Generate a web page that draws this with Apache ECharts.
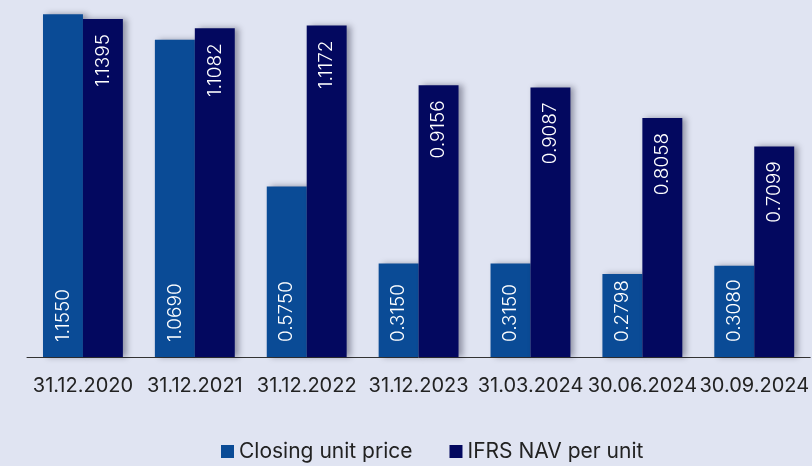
<!DOCTYPE html>
<html><head><meta charset="utf-8">
<script src="https://cdn.jsdelivr.net/npm/echarts@6/dist/echarts.min.js"></script>
<style>html,body{margin:0;padding:0;background:#e0e4f2;}#c{width:812px;height:466px;}</style>
</head><body><div id="c"></div>
<script>
var categories = ['31.12.2020','31.12.2021','31.12.2022','31.12.2023','31.03.2024','30.06.2024','30.09.2024'];
var closingPrice = [1.155, 1.069, 0.575, 0.315, 0.315, 0.2798, 0.308];
var navPerUnit = [1.1395, 1.1082, 1.1172, 0.9156, 0.9087, 0.8058, 0.7099];
var seriesNames = ['Closing unit price', 'IFRS NAV per unit'];

var FONT = 'Inter, "Noto Sans", sans-serif';
var chart = echarts.init(document.getElementById('c'));
var shadow = {shadowColor:'rgba(0,0,30,0.35)', shadowBlur:6, shadowOffsetX:4, shadowOffsetY:0};
chart.setOption({
  backgroundColor:'#e0e4f2',
  animation:false,
  grid:{left:27, right:1, top:1, bottom:109},
  legend:{
    bottom:-1, left:216, itemWidth:13, itemHeight:13, itemGap:37, icon:'rect',
    textStyle:{fontFamily:FONT, fontSize:21, color:'#222'},
    data:seriesNames
  },
  xAxis:{
    type:'category', data:categories,
    axisLine:{lineStyle:{color:'#333', width:1}},
    axisTick:{show:false},
    axisLabel:{fontFamily:FONT, fontSize:20, color:'#222', margin:19, interval:0}
  },
  yAxis:{type:'value', min:0, max:1.2, show:false, splitLine:{show:false}},
  series:[
    {name:seriesNames[0], type:'bar', data:closingPrice, barGap:'0%', barCategoryGap:'28.6%',
     itemStyle:Object.assign({color:'#0a4b96'}, shadow),
     label:{show:true, position:'insideBottom', rotate:90, align:'left', verticalAlign:'middle', distance:15,
       color:'#fff', fontFamily:FONT, fontWeight:300, fontSize:19,
       formatter:function(p){return p.value.toFixed(4);}}},
    {name:seriesNames[1], type:'bar', data:navPerUnit,
     itemStyle:Object.assign({color:'#03085f'}, shadow),
     label:{show:true, position:'insideTop', rotate:90, align:'right', verticalAlign:'middle', distance:15,
       color:'#fff', fontFamily:FONT, fontWeight:300, fontSize:19,
       formatter:function(p){return p.value.toFixed(4);}}}
  ]
});
</script></body></html>
